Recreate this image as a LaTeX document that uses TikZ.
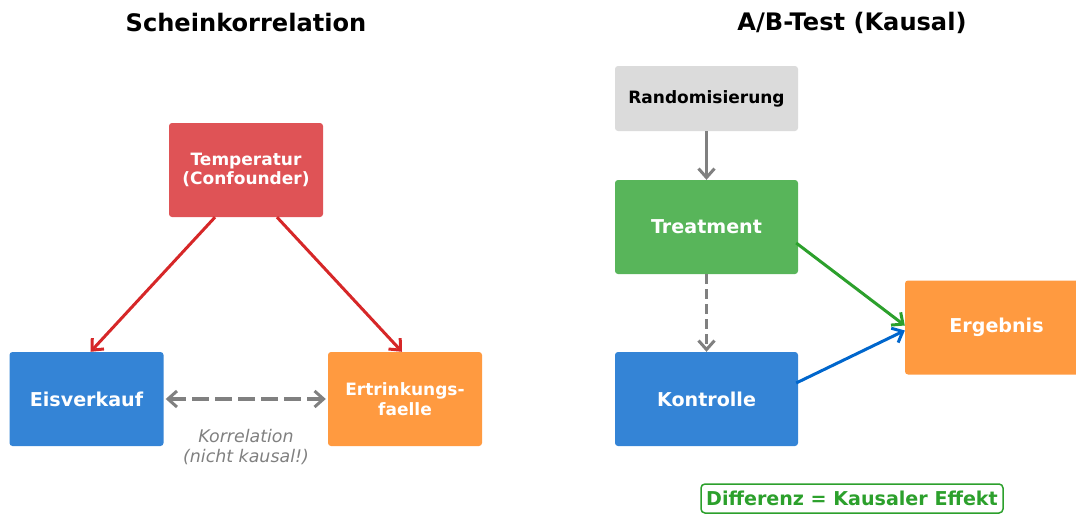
\documentclass[tikz,border=0pt]{standalone}
\usepackage{fontspec}
\setmainfont{DejaVu Sans}
\usepackage{xcolor}
\usepackage{tikz}
\usetikzlibrary{positioning,calc,arrows.meta}
\definecolor{conf}{HTML}{DF5356}
\definecolor{blau}{HTML}{3484D6}
\definecolor{orang}{HTML}{FF9A40}
\definecolor{gruen}{HTML}{58B55A}
\definecolor{grau}{HTML}{DBDBDB}
\definecolor{pfeilrot}{HTML}{D62728}
\definecolor{pfeilgruen}{HTML}{2CA02C}
\definecolor{pfeilblau}{HTML}{0066CC}
\definecolor{pfeilgrau}{HTML}{808080}
\tikzset{
  box/.style      = {rounded corners=3pt, inner sep=0pt, align=center, text=white,
                     font=\fontsize{19.1}{20}\selectfont\bfseries},
  boxl/.style     = {box, minimum width=154pt, minimum height=94pt},
  boxr/.style     = {box, minimum width=183pt, minimum height=94pt},
  klein/.style    = {font=\fontsize{17}{19.5}\selectfont\bfseries},
  titel/.style    = {font=\fontsize{24.1}{26}\selectfont\bfseries, inner sep=0pt},
  pfeil/.style    = {-{Straight Barb[length=9pt,width=16pt,line width=3pt]}, line width=3pt},
  gestrichelt/.style = {pfeil, draw=pfeilgrau, line width=3.5pt},
}
\begin{document}
\begin{tikzpicture}[x=1pt,y=-1pt]
\path[use as bounding box] (0,0) rectangle (1076,514);
\clip (0,0) rectangle (1076,514);

% ---- titles -------------------------------------------------------------
\node[titel] (tl) at (246,23) {Scheinkorrelation};
\node[titel] (tr) at (852,23) {A/B-Test (Kausal)};

% ---- left: spurious correlation -----------------------------------------
\node[boxl, fill=conf, klein] (temp) at (246,170) {Temperatur\\(Confounder)};
\node[boxl, fill=blau] (eis) at (86.5,399) {Eisverkauf};
\node[boxl, fill=orang, klein] (fall) at (405,399) {Ertrinkungs-\\faelle};

\draw[pfeil, draw=pfeilrot] ([xshift=-31pt]temp.south) -- ([xshift=4pt]eis.north);
\draw[pfeil, draw=pfeilrot] ([xshift=31pt]temp.south) -- ([xshift=-3pt]fall.north);
\draw[gestrichelt, {Straight Barb[length=9pt,width=16pt,line width=3pt]}-{Straight Barb[length=9pt,width=16pt,line width=3pt]},
      dash pattern=on 17pt off 6pt, shorten <=2pt, shorten >=2pt] (eis.east) -- (fall.west);
\node[align=center, text=pfeilgrau, font=\fontsize{17.4}{19.5}\selectfont\itshape] (korr) at (246,447)
  {Korrelation\\(nicht kausal!)};

% ---- right: A/B test ----------------------------------------------------
\node[boxr, minimum height=65pt, fill=grau, text=black, klein] (rand) at (706.5,98.5) {Randomisierung};
\node[boxr, fill=gruen] (treat) at (706.5,227) {Treatment};
\node[boxr, fill=blau] (kont) at (706.5,399) {Kontrolle};
\node[boxr, fill=orang] (erg) at (996.5,327.5) {Ergebnis};

\draw[pfeil, draw=pfeilgrau] (rand.south) -- (treat.north);
\draw[gestrichelt, line width=3pt, dash pattern=on 10pt off 5pt] (treat.south) -- (kont.north);
\draw[pfeil, draw=pfeilgruen] ([xshift=-2pt,yshift=-16pt]treat.east) -- ([yshift=2pt]erg.west);
\draw[pfeil, draw=pfeilblau] ([xshift=-2pt,yshift=16pt]kont.east) -- ([yshift=-3pt]erg.west);

\node[draw=pfeilgruen, line width=1.5pt, rounded corners=4pt, text=pfeilgruen,
      font=\fontsize{19.1}{20}\selectfont\bfseries, minimum width=302pt, minimum height=29pt,
      inner sep=0pt] (diff) at (852,498.5) {Differenz = Kausaler Effekt};

\end{tikzpicture}
\end{document}
